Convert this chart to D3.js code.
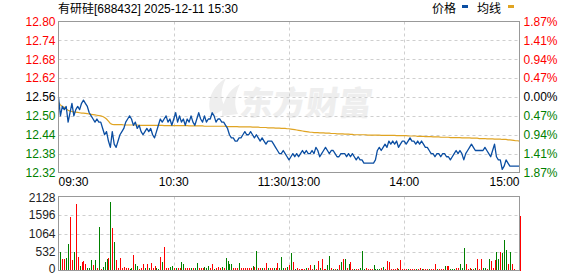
<!DOCTYPE html>
<html>
<head>
<meta charset="utf-8">
<script src="https://cdn.jsdelivr.net/npm/d3@7"></script>
<style>
  body { margin: 0; background: #fff; }
  svg { display: block; font-family: "Liberation Sans", Arial, "Noto Sans CJK SC", sans-serif; }
</style>
</head>
<body>
<div id="chart"></div>
<script>
// 有研硅 688432 分时 2025-12-11
const preClose = 12.56;
const priceTicks = [12.80, 12.74, 12.68, 12.62, 12.56, 12.50, 12.44, 12.38, 12.32];
const pctTicks = ["1.87%", "1.41%", "0.94%", "0.47%", "0.00%", "0.47%", "0.94%", "1.41%", "1.87%"];
const volTicks = [0, 532, 1064, 1596, 2128];
const timeTicks = [0, 60, 120, 180, 240];
const timeLabels = ["09:30", "10:30", "11:30/13:00", "14:00", "15:00"];

// one value per minute, 241 points
const prices = [
  12.56, 12.50, 12.53, 12.52, 12.53, 12.48, 12.51, 12.54, 12.50, 12.52,
  12.53, 12.52, 12.54, 12.55, 12.54, 12.53, 12.51, 12.50, 12.49, 12.48,
  12.49, 12.48, 12.48, 12.46, 12.44, 12.45, 12.42, 12.40, 12.45, 12.41,
  12.40, 12.42, 12.44, 12.45, 12.46, 12.48, 12.49, 12.50, 12.49, 12.47,
  12.48, 12.46, 12.47, 12.45, 12.44, 12.45, 12.46, 12.45, 12.46, 12.44,
  12.43, 12.45, 12.47, 12.49, 12.48, 12.49, 12.50, 12.48, 12.49, 12.47,
  12.49, 12.51, 12.48, 12.50, 12.48, 12.49, 12.47, 12.49, 12.48, 12.50,
  12.48, 12.47, 12.49, 12.51, 12.49, 12.48, 12.50, 12.48, 12.49, 12.49,
  12.51, 12.50, 12.48, 12.49, 12.49, 12.48, 12.48, 12.47, 12.46, 12.44,
  12.43, 12.43, 12.42, 12.42, 12.43, 12.43, 12.44, 12.45, 12.44, 12.44,
  12.45, 12.44, 12.43, 12.44, 12.43, 12.42, 12.43, 12.42, 12.41, 12.42,
  12.42, 12.42, 12.41, 12.40, 12.39, 12.38, 12.38, 12.39, 12.38, 12.37,
  12.36, 12.37, 12.38, 12.37, 12.38, 12.37, 12.38, 12.39, 12.38, 12.39,
  12.38, 12.38, 12.39, 12.38, 12.40, 12.39, 12.37, 12.38, 12.39, 12.40,
  12.39, 12.38, 12.39, 12.39, 12.38, 12.37, 12.37, 12.38, 12.38, 12.38,
  12.37, 12.38, 12.37, 12.38, 12.37, 12.36, 12.37, 12.36, 12.36, 12.35,
  12.35, 12.35, 12.35, 12.35, 12.35, 12.36, 12.39, 12.40, 12.39, 12.40,
  12.41, 12.40, 12.42, 12.41, 12.42, 12.41, 12.42, 12.40, 12.41, 12.42,
  12.42, 12.41, 12.42, 12.43, 12.42, 12.42, 12.41, 12.42, 12.41, 12.42,
  12.41, 12.40, 12.40, 12.39, 12.38, 12.38, 12.37, 12.38, 12.38, 12.37,
  12.38, 12.38, 12.37, 12.37, 12.36, 12.37, 12.38, 12.39, 12.38, 12.39,
  12.38, 12.36, 12.38, 12.39, 12.40, 12.41, 12.40, 12.39, 12.39, 12.39,
  12.39, 12.39, 12.40, 12.39, 12.38, 12.37, 12.39, 12.41, 12.37, 12.36,
  12.36, 12.33, 12.34, 12.36, 12.35, 12.34, 12.34, 12.34, 12.34, 12.34,
  12.34
];

const avgPrices = [
  12.543, 12.535, 12.530, 12.527, 12.522, 12.518, 12.515, 12.514, 12.512, 12.512,
  12.511, 12.510, 12.509, 12.509, 12.508, 12.507, 12.506, 12.505, 12.504, 12.503,
  12.502, 12.501, 12.500, 12.498, 12.495, 12.490, 12.483, 12.476, 12.473, 12.472,
  12.472, 12.472, 12.472, 12.472, 12.471, 12.471, 12.471, 12.471, 12.471, 12.471,
  12.471, 12.471, 12.470, 12.470, 12.470, 12.470, 12.470, 12.470, 12.470, 12.470,
  12.470, 12.470, 12.470, 12.470, 12.470, 12.469, 12.469, 12.469, 12.469, 12.469,
  12.469, 12.469, 12.469, 12.469, 12.469, 12.469, 12.469, 12.469, 12.468, 12.468,
  12.468, 12.468, 12.468, 12.468, 12.468, 12.468, 12.467, 12.467, 12.467, 12.467,
  12.467, 12.467, 12.467, 12.467, 12.467, 12.467, 12.467, 12.467, 12.466, 12.466,
  12.466, 12.466, 12.466, 12.466, 12.465, 12.465, 12.465, 12.465, 12.465, 12.465,
  12.465, 12.464, 12.464, 12.464, 12.464, 12.463, 12.463, 12.463, 12.463, 12.462,
  12.462, 12.462, 12.462, 12.461, 12.461, 12.461, 12.460, 12.460, 12.460, 12.459,
  12.459, 12.458, 12.457, 12.456, 12.455, 12.454, 12.453, 12.452, 12.451, 12.450,
  12.449, 12.448, 12.448, 12.447, 12.447, 12.447, 12.446, 12.446, 12.446, 12.445,
  12.445, 12.445, 12.444, 12.444, 12.444, 12.443, 12.443, 12.443, 12.443, 12.442,
  12.442, 12.442, 12.441, 12.441, 12.440, 12.440, 12.440, 12.440, 12.440, 12.440,
  12.440, 12.439, 12.439, 12.439, 12.439, 12.439, 12.439, 12.439, 12.438, 12.438,
  12.438, 12.438, 12.438, 12.438, 12.438, 12.438, 12.437, 12.437, 12.437, 12.437,
  12.437, 12.437, 12.436, 12.436, 12.436, 12.436, 12.436, 12.435, 12.435, 12.435,
  12.435, 12.434, 12.434, 12.434, 12.434, 12.433, 12.433, 12.433, 12.433, 12.432,
  12.432, 12.432, 12.432, 12.432, 12.431, 12.431, 12.431, 12.431, 12.431, 12.431,
  12.430, 12.430, 12.430, 12.430, 12.430, 12.429, 12.429, 12.429, 12.429, 12.428,
  12.428, 12.428, 12.428, 12.427, 12.427, 12.427, 12.427, 12.426, 12.426, 12.426,
  12.426, 12.425, 12.425, 12.425, 12.424, 12.424, 12.423, 12.422, 12.421, 12.421,
  12.420
];

// 成交量 (手), one bar per minute
const volumes = [
  0,
  535, 320, 320, 360, 750, 1540, 290, 535, 1900, 390,
  120, 240, 275, 200, 80, 80, 290, 150, 290, 80,
  1250, 40, 90, 240, 330, 370, 1970, 1225, 820, 290,
  60, 370, 80, 100, 60, 60, 40, 60, 450, 180,
  120, 40, 60, 200, 80, 200, 60, 220, 60, 130,
  60, 40, 400, 250, 680, 60, 60, 100, 120, 60,
  60, 60, 60, 250, 180, 60, 60, 60, 60, 80,
  60, 230, 60, 60, 60, 100, 70, 120, 60, 180,
  40, 60, 100, 60, 100, 60, 370, 260, 180, 180,
  60, 60, 60, 210, 60, 70, 60, 60, 60, 60,
  120, 110, 550, 60, 60, 60, 60, 210, 60, 60,
  60, 60, 70, 210, 60, 400, 80, 60, 110, 150,
  490, 250, 40, 80, 40, 40, 40, 40, 80, 60,
  150, 40, 150, 40, 280, 80, 340, 40, 40, 150,
  410, 80, 40, 40, 40, 150, 240, 320, 320, 80,
  200, 240, 40, 40, 40, 40, 60, 550, 40, 80,
  40, 40, 40, 150, 40, 40, 40, 80, 110, 40,
  280, 250, 40, 40, 40, 80, 40, 300, 40, 40,
  40, 40, 40, 40, 40, 40, 40, 80, 40, 40,
  40, 40, 40, 40, 40, 200, 40, 40, 40, 40,
  120, 120, 120, 40, 40, 40, 60, 60, 200, 60,
  640, 180, 40, 80, 40, 40, 60, 340, 40, 340,
  80, 80, 40, 340, 260, 80, 290, 520, 320, 540,
  490, 870, 600, 200, 540, 200, 40, 0, 0, 1560
];
// r = 上涨 (red), g = 下跌 (green)
const volSides = (
  "g" +
  "grrggrrgrr" + "grrrgggrgr" + "grgggrgrgr" + "rrrrrrggrg" + "grrrgrgrrr" +
  "ggrgrrrggr" + "grrggrrrgr" + "ggrrrgggrr" + "grrrgrgggg" + "rrrgrrrrrr" +
  "grgrrgrrgr" + "rgrrgggrgr" +
  "grgrrrrrgr" + "rrgrrgrrrg" + "grgrgrgrgr" + "grrgrrgggr" + "rrrggggrgr" +
  "rrrrrrgrrr" + "rgrrrgrrgr" + "rrgrrrgrrr" + "grrgggrrgg" + "grrrgrgrrr" +
  "ggrgrrrggr" + "gggrgrrggr"
).split("");

const W = 578, H = 276;
const left = 58.5, right = 519.5;
const pTop = 21.5, pBottom = 172.5;
const vTop = 196.5, vBottom = 270.5;

const RED = "#ff0000", GREEN = "#008000", GRID = "#cfcfcf", FRAME = "#999999";

const svg = d3.select("#chart").append("svg")
  .attr("width", W)
  .attr("height", H);

const x = d3.scaleLinear().domain([0, 240]).range([left, right]);
const yP = d3.scaleLinear().domain([12.32, 12.80]).range([pBottom, pTop]);
const yV = d3.scaleLinear().domain([0, 2128]).range([vBottom, vTop]);

function tickColor(v) {
  if (Math.abs(v - preClose) < 1e-6) return "#000";
  return v > preClose ? RED : GREEN;
}

// watermark
const wm = svg.append("g").attr("fill", "#eeeeee");
wm.append("path")
  .attr("d", "M212,116 C206,104 210,88 226,78 C220,90 220,100 226,108 Z M222,116 C222,102 228,90 240,84 C234,96 234,106 238,114 Z");
wm.append("text")
  .attr("x", 240)
  .attr("y", 115)
  .attr("font-family", "Noto Sans CJK SC")
  .attr("font-weight", 900)
  .attr("font-size", 33)
  .attr("transform", "skewX(-8) translate(15,0)")
  .text("东方财富");

// title + legend
svg.append("text")
  .attr("x", left - 0.5)
  .attr("y", 13)
  .attr("font-size", 12)
  .attr("fill", "#000")
  .text("有研硅[688432] 2025-12-11 15:30");

svg.append("text").attr("x", 432).attr("y", 13).attr("font-size", 12).attr("font-family", "Noto Sans CJK SC").text("价格");
svg.append("rect").attr("x", 462).attr("y", 5).attr("width", 6).attr("height", 3).attr("fill", "#0b4ea2");
svg.append("text").attr("x", 477).attr("y", 13).attr("font-size", 12).attr("font-family", "Noto Sans CJK SC").text("均线");
svg.append("rect").attr("x", 508).attr("y", 5).attr("width", 6).attr("height", 3).attr("fill", "#e0a422");

// grid
const grid = svg.append("g")
  .attr("stroke", GRID)
  .attr("stroke-dasharray", "3,3");

grid.selectAll(".hp")
  .data(priceTicks.slice(1, -1))
  .join("line")
  .attr("x1", left).attr("x2", right)
  .attr("y1", d => Math.round(yP(d)) + 0.5)
  .attr("y2", d => Math.round(yP(d)) + 0.5);

grid.selectAll(".hv")
  .data(volTicks.slice(1, -1))
  .join("line")
  .attr("x1", left).attr("x2", right)
  .attr("y1", d => Math.round(yV(d)) + 0.5)
  .attr("y2", d => Math.round(yV(d)) + 0.5);

[[pTop, pBottom], [vTop, vBottom]].forEach(([t, b]) => {
  grid.append("g").selectAll("line")
    .data(timeTicks.slice(1, -1))
    .join("line")
    .attr("x1", d => Math.round(x(d)) + 0.5)
    .attr("x2", d => Math.round(x(d)) + 0.5)
    .attr("y1", t).attr("y2", b);
});

// volume bars
svg.append("g").selectAll("rect")
  .data(volumes)
  .join("rect")
  .attr("x", (d, i) => Math.round(x(i)))
  .attr("y", d => Math.round(yV(d)))
  .attr("width", 1)
  .attr("height", d => Math.round(vBottom) - Math.round(yV(d)))
  .attr("fill", (d, i) => volSides[i] === "r" ? RED : GREEN);

// lines
const line = d3.line().x((d, i) => x(i)).y(d => yP(d));

svg.append("path")
  .datum(avgPrices)
  .attr("d", line)
  .attr("fill", "none")
  .attr("stroke", "#e0a422")
  .attr("stroke-width", 1.2);

svg.append("path")
  .datum(prices)
  .attr("d", line)
  .attr("fill", "none")
  .attr("stroke", "#0b4ea2")
  .attr("stroke-width", 1.3)
  .attr("stroke-linejoin", "round");

// frames
svg.append("rect")
  .attr("x", left).attr("y", pTop)
  .attr("width", right - left).attr("height", pBottom - pTop)
  .attr("fill", "none").attr("stroke", FRAME);
svg.append("rect")
  .attr("x", left).attr("y", vTop)
  .attr("width", right - left).attr("height", vBottom - vTop)
  .attr("fill", "none").attr("stroke", FRAME);

// price axis (left)
const axL = svg.append("g")
  .attr("transform", `translate(${left},0)`)
  .call(d3.axisLeft(yP).tickValues(priceTicks).tickSize(0).tickPadding(3).tickFormat(d3.format(".2f")));
axL.select(".domain").remove();
axL.selectAll("text")
  .attr("font-size", 12)
  .attr("font-family", "Liberation Sans, Arial, sans-serif")
  .attr("fill", d => tickColor(d));

// percent axis (right)
const axR = svg.append("g")
  .attr("transform", `translate(${right},0)`)
  .call(d3.axisRight(yP).tickValues(priceTicks).tickSize(0).tickPadding(4)
    .tickFormat((d, i) => pctTicks[i]));
axR.select(".domain").remove();
axR.selectAll("text")
  .attr("font-size", 12)
  .attr("font-family", "Liberation Sans, Arial, sans-serif")
  .attr("fill", d => tickColor(d));

// volume axis
const axV = svg.append("g")
  .attr("transform", `translate(${left},0)`)
  .call(d3.axisLeft(yV).tickValues(volTicks).tickSize(0).tickPadding(3).tickFormat(d3.format("d")));
axV.select(".domain").remove();
axV.selectAll("text")
  .attr("font-size", 12)
  .attr("font-family", "Liberation Sans, Arial, sans-serif")
  .attr("fill", "#222");
axV.selectAll(".tick").filter(d => d === 2128).attr("transform", `translate(0,${yV(2128) + 2})`);
axV.selectAll(".tick").filter(d => d === 0).attr("transform", `translate(0,${yV(0) - 1})`);

// time axis
svg.append("g").selectAll("text")
  .data(timeTicks)
  .join("text")
  .attr("x", d => x(d))
  .attr("y", 186)
  .attr("font-size", 12)
  .attr("fill", "#000")
  .attr("text-anchor", (d, i) => i === 0 ? "start" : i === timeTicks.length - 1 ? "end" : "middle")
  .text((d, i) => timeLabels[i]);
</script>
</body>
</html>
